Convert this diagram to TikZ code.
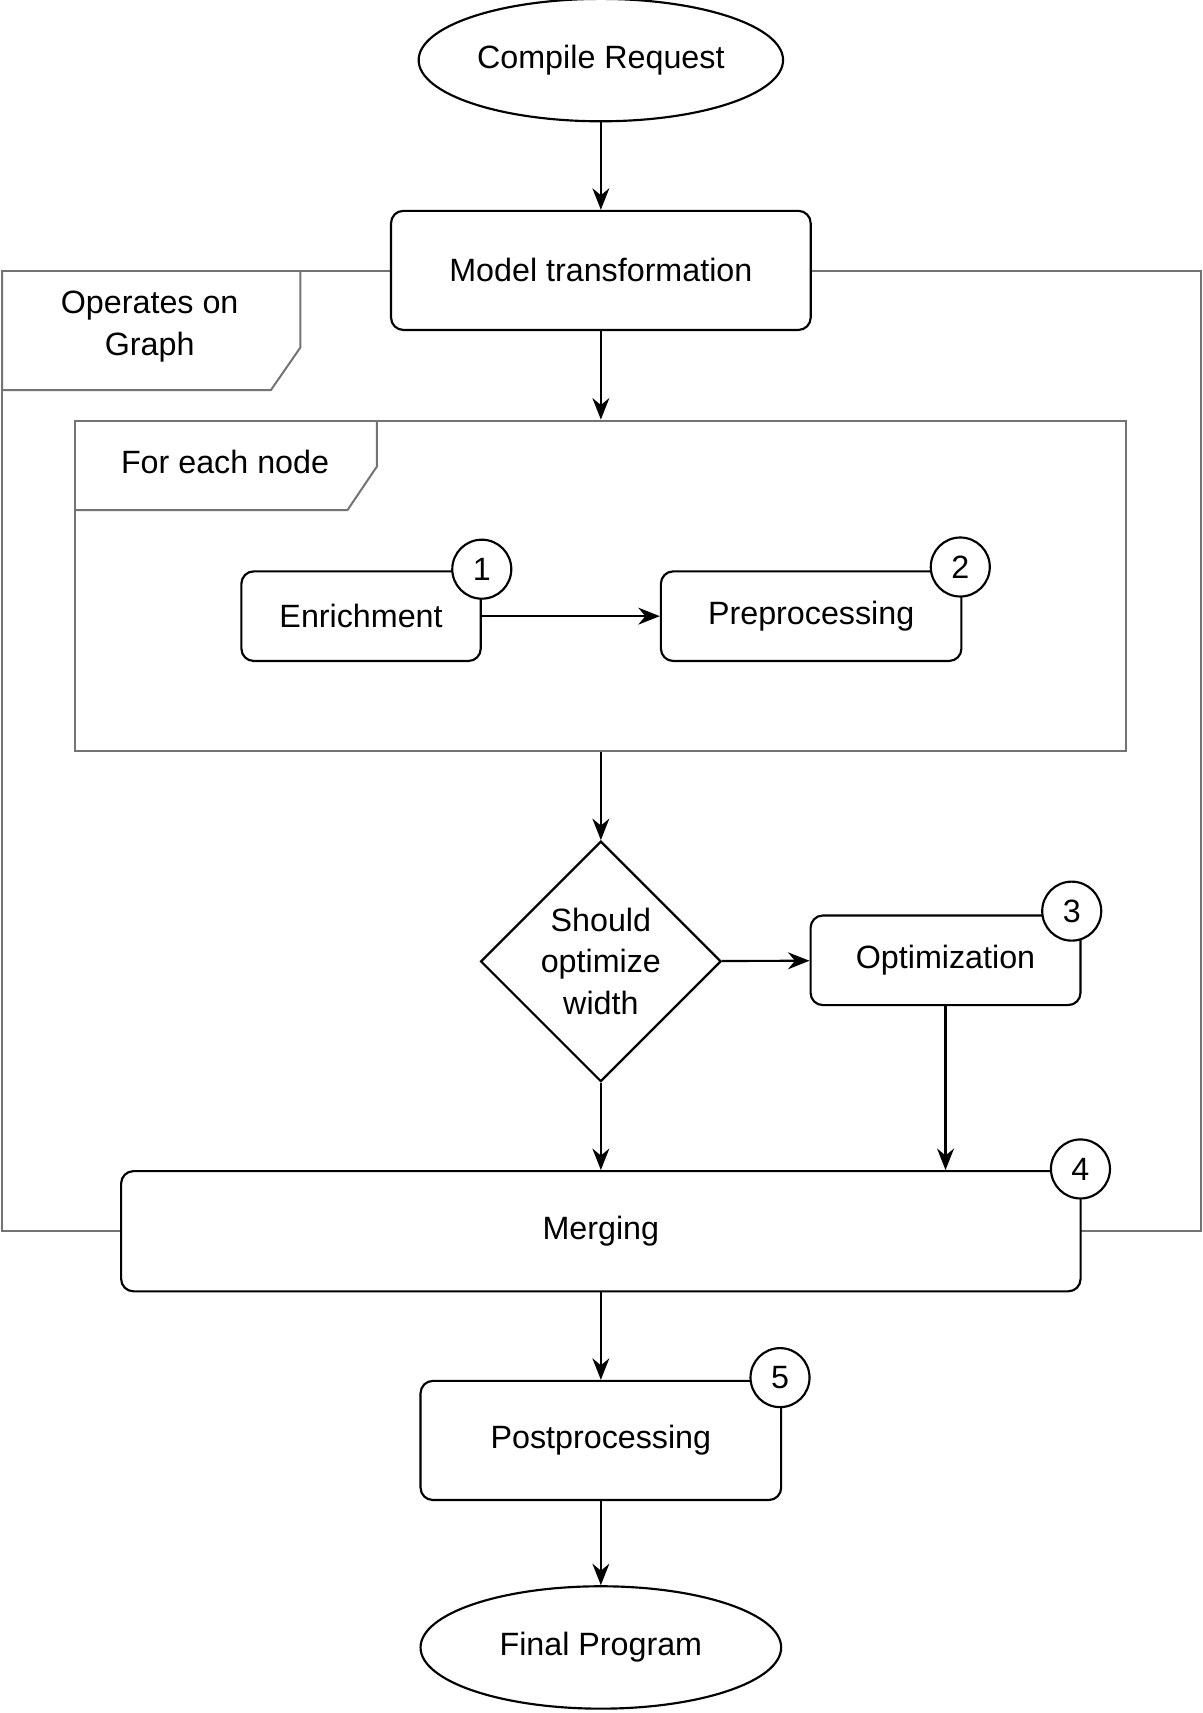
\documentclass[tikz,border=0pt]{standalone}
\usepackage{fontspec}
\setmainfont{Liberation Sans}
\usetikzlibrary{positioning,shapes.geometric,arrows.meta}
\tikzstyle{squared} = [rectangle, rounded corners=8pt, draw=black, line width=1.4pt, fill=white, text centered, align=center]
\tikzstyle{terminal} = [ellipse, draw=black, line width=1.4pt, fill=white, minimum width=8.25cm, minimum height=2.8cm]
\tikzstyle{boxif} = [diamond, draw=black, line width=1.4pt, fill=white, minimum width=5.5cm, minimum height=5.5cm, inner sep=0pt, align=center]
\tikzstyle{stepno} = [circle, draw=black, line width=1.4pt, fill=white, minimum size=1.35cm, inner sep=0pt]
\tikzstyle{frame} = [rectangle, draw=black!55, line width=1.3pt]
\tikzstyle{connect} = [line width=1.4pt, -{Stealth[length=14pt,width=11pt]}]

\begin{document}
\begin{tikzpicture}[x=0.025cm, y=-0.025cm, font=\fontsize{21}{27}\selectfont]
			\useasboundingbox (0,0) rectangle (1101,1568);
			% frames
			\node (graph) [frame, minimum width=27.425cm, minimum height=21.975cm] at (550.5,687.5) {};
			\draw [frame] (2,248) -- (2,357) -- (248,357) -- (275,318) -- (275,248);
			\node (graphlbl) at (137,299) [align=center] {Operates on\\Graph};
			\node (loop) [frame, minimum width=24.05cm, minimum height=7.55cm] at (550,536) {};
			\draw [frame] (69,467) -- (318,467) -- (345,427) -- (345,385);
			\node (looplbl) at (206,423) {For each node};

			\node (req) [terminal] at (550,55) {Compile Request};
			\node (model) [squared, minimum width=9.6cm, minimum height=2.725cm] at (550,247.5) {Model transformation};
			\node (enrich) [squared, minimum width=5.475cm, minimum height=2.05cm] at (330.5,564) {Enrichment};
			\node (prep) [squared, minimum width=6.875cm, minimum height=2.05cm] at (742.5,564) {Preprocessing};
			\node (if) [boxif] at (550,880) {Should\\optimize\\width};
			\node (opt) [squared, minimum width=6.175cm, minimum height=2.05cm] at (865.5,879) {Optimization};
			\node (merge) [squared, minimum width=21.95cm, minimum height=2.75cm] at (550,1127) {Merging};
			\node (post) [squared, minimum width=8.25cm, minimum height=2.725cm] at (550,1318.5) {Postprocessing};
			\node (final) [terminal] at (550,1508) {Final Program};

			\node (s1) [stepno] at (441,521) {1};
			\node (s2) [stepno] at (879,519) {2};
			\node (s3) [stepno] at (981,834) {3};
			\node (s4) [stepno] at (989,1070) {4};
			\node (s5) [stepno] at (714,1261) {5};

			\draw [connect] (req) -- (model);
			\draw [connect] (model) -- (loop.north);
			\draw [connect] (enrich) -- (prep);
			\draw [connect] (loop.south) -- (if.north);
			\draw [connect] (if) -- (opt);
			\draw [connect] (opt.south) -- (opt.south |- merge.north);
			\draw [connect] (if.south) -- (merge.north);
			\draw [connect] (merge) -- (post);
			\draw [connect] (post) -- (final);
\end{tikzpicture}
\end{document}
